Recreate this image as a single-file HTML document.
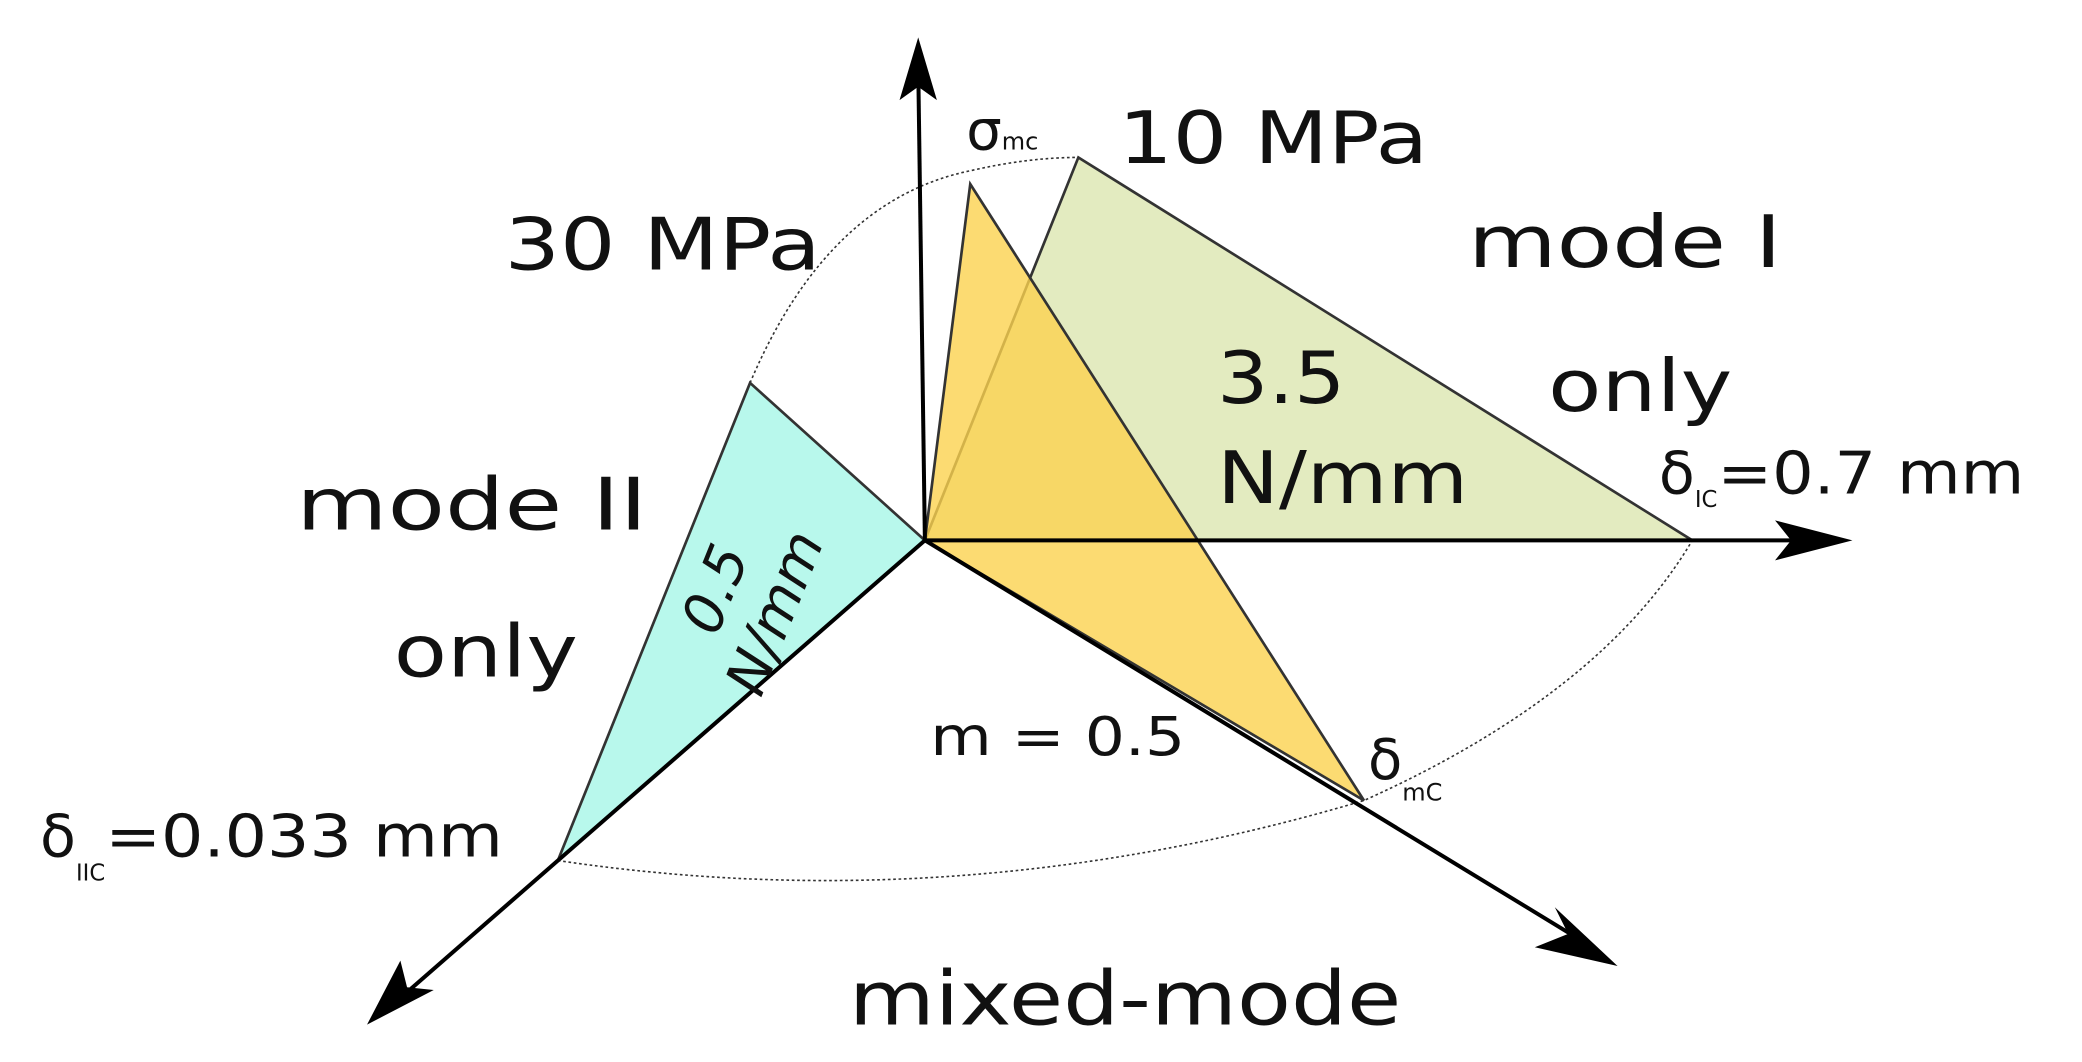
<!DOCTYPE html>
<html><head><meta charset="utf-8"><style>
html,body{margin:0;padding:0;background:#fff;}
svg{display:block;}
text{font-family:"DejaVu Sans","Liberation Sans",sans-serif;fill:#111;}
</style></head><body>
<svg width="2082" height="1062" viewBox="0 0 1560 796" preserveAspectRatio="none" xmlns="http://www.w3.org/2000/svg">
<path d="M562,287 Q620,150 727,128 Q770,118 808,118" fill="none" stroke="#333" stroke-width="1.2" stroke-dasharray="2,2"/>
<path d="M418,645 Q720,690 1022,600 Q1200,520 1268,405" fill="none" stroke="#333" stroke-width="1.2" stroke-dasharray="2,2"/>
<polygon points="693,405 808,118 1268,405" fill="#e3ebc0" stroke="#333" stroke-width="2"/>
<polygon points="693,405 562,287 418,645" fill="#b8f8ec" stroke="#333" stroke-width="2"/>
<polygon points="693,405 727,138 1022,600" fill="#fbd24f" fill-opacity="0.8" stroke="#333" stroke-width="2"/>
<g stroke="#000" stroke-width="3">
<line x1="693" y1="405" x2="688" y2="50"/>
<line x1="693" y1="405" x2="1350" y2="405"/>
<line x1="693" y1="405" x2="1180" y2="702"/>
<line x1="693" y1="405" x2="300" y2="748"/>
</g>
<polygon points="688,28 674,75 688,65 702,75" fill="#000"/>
<polygon points="1388,405 1330,390 1342,405 1330,420" fill="#000"/>
<polygon points="1212,724 1165,680 1175,700 1150,710" fill="#000"/>
<polygon points="275,768 300,720 305,740 325,742" fill="#000"/>
<text x="724" y="112" font-size="42">σ<tspan font-size="18">mc</tspan></text>
<text x="838" y="122" font-size="54" textLength="232" lengthAdjust="spacingAndGlyphs">10 MPa</text>
<text x="378" y="202" font-size="54" textLength="237" lengthAdjust="spacingAndGlyphs">30 MPa</text>
<text x="1100" y="200" font-size="54" textLength="235" lengthAdjust="spacingAndGlyphs">mode I</text>
<text x="1160" y="308" font-size="54" textLength="138" lengthAdjust="spacingAndGlyphs">only</text>
<text x="912" y="302" font-size="54" textLength="96" lengthAdjust="spacingAndGlyphs">3.5</text>
<text x="912" y="377" font-size="54" textLength="188" lengthAdjust="spacingAndGlyphs">N/mm</text>
<text x="1243" y="370" font-size="44">δ<tspan font-size="17" dy="10">IC</tspan><tspan dy="-10" textLength="230" lengthAdjust="spacingAndGlyphs">=0.7 mm</tspan></text>
<text x="222" y="397" font-size="54" textLength="263" lengthAdjust="spacingAndGlyphs">mode II</text>
<text x="295" y="507" font-size="54" textLength="138" lengthAdjust="spacingAndGlyphs">only</text>
<g transform="translate(548,450) rotate(-68)" font-size="42">
<text x="-30" y="0" font-style="italic">0.5</text>
<text x="-60" y="48" font-style="italic">N/mm</text>
</g>
<text x="697" y="566" font-size="40" textLength="191" lengthAdjust="spacingAndGlyphs">m = 0.5</text>
<text x="1025" y="584" font-size="42">δ<tspan font-size="18" dy="16">mC</tspan></text>
<text x="30" y="642" font-size="44">δ<tspan font-size="17" dy="18">IIC</tspan><tspan dy="-18" textLength="298" lengthAdjust="spacingAndGlyphs">=0.033 mm</tspan></text>
<text x="636" y="768" font-size="56" textLength="414" lengthAdjust="spacingAndGlyphs">mixed-mode</text>
</svg>
</body></html>
